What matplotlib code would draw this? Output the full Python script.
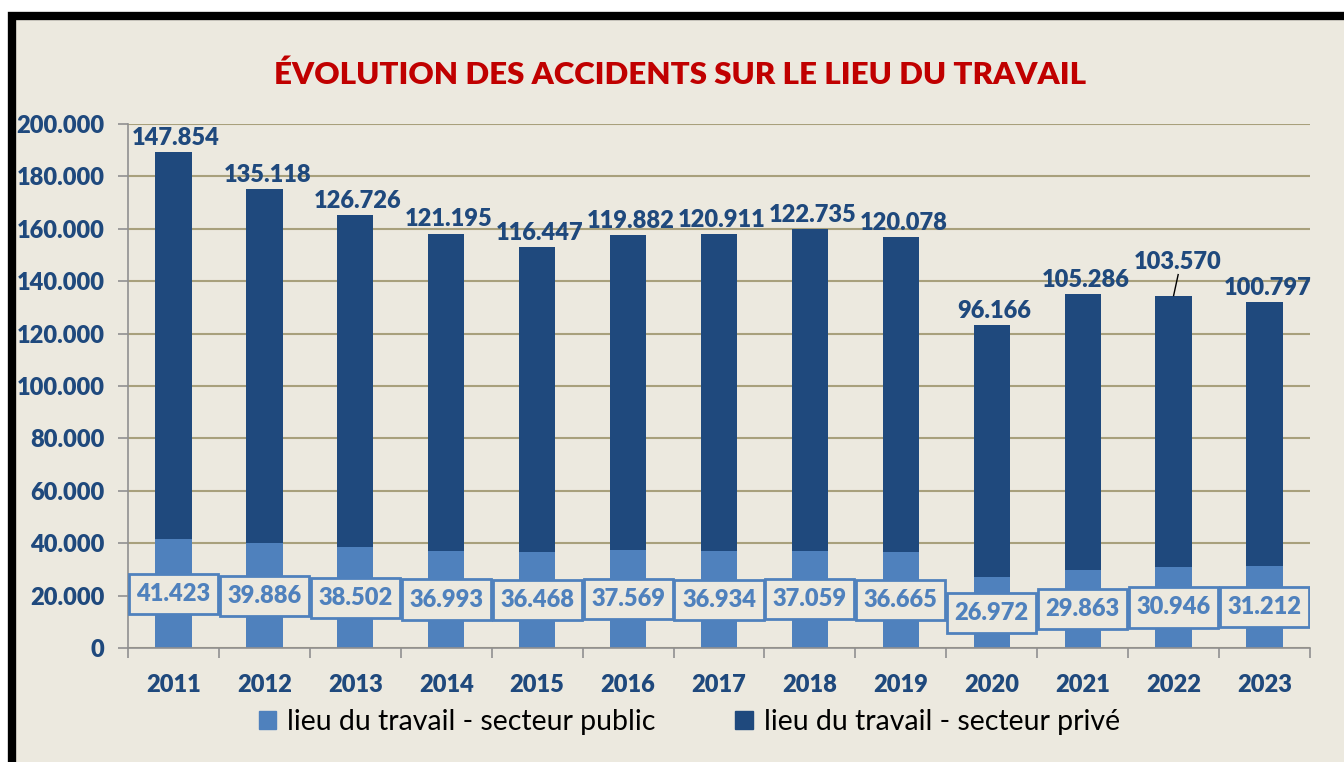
import numpy as np
import matplotlib.pyplot as plt
from matplotlib.patches import Rectangle
from matplotlib.ticker import FuncFormatter

# data
years = ["2011", "2012", "2013", "2014", "2015", "2016", "2017",
         "2018", "2019", "2020", "2021", "2022", "2023"]
public = [41423, 39886, 38502, 36993, 36468, 37569, 36934,
          37059, 36665, 26972, 29863, 30946, 31212]
private = [147854, 135118, 126726, 121195, 116447, 119882, 120911,
           122735, 120078, 96166, 105286, 103570, 100797]

BG = "#ECE9DF"
DARK = "#1F497D"
LIGHT = "#4F81BD"
GRID = "#A8A07C"
WT = "heavy"

plt.rcParams['font.family'] = ['Lato', 'DejaVu Sans']

W, H = 1344, 762
fig = plt.figure(figsize=(W / 100, H / 100), dpi=100)
fig.patch.set_facecolor("white")

# frame with thick black border (left/top/right visible)
fig.patches.append(Rectangle((12 / W, -0.05), 1.1, (H - 16) / H + 0.05,
                             transform=fig.transFigure, facecolor=BG,
                             edgecolor="black", linewidth=6, zorder=-5))

ax = fig.add_axes([128 / W, 114 / H, (1310 - 128) / W, (648 - 124) / H])
ax.set_facecolor("none")
ax.set_zorder(2)

x = np.arange(len(years))
pub = np.array(public)
pri = np.array(private)

ax.bar(x, pub, width=0.4, color=LIGHT, zorder=2)
ax.bar(x, pri, width=0.4, bottom=pub, color=DARK, zorder=2)

ax.set_xlim(-0.5, len(years) - 0.5)
ax.set_ylim(0, 200000)
ax.set_yticks(np.arange(0, 200001, 20000))
ax.yaxis.set_major_formatter(FuncFormatter(lambda v, p: f"{int(v):,}".replace(",", ".")))
ax.grid(axis="y", color=GRID, linewidth=1.5, zorder=1)
ax.set_axisbelow(True)

ax.set_xticks(x)
ax.set_xticklabels(years)
ax.set_xticks(np.arange(-0.5, len(years)), minor=True)
ax.tick_params(axis="x", which="major", length=0, pad=19)
ax.tick_params(axis="x", which="minor", length=7, color="#909090", width=1.2)
ax.tick_params(axis="y", length=7, color="#909090", width=1.2, pad=10)
for lab in ax.get_xticklabels() + ax.get_yticklabels():
    lab.set_fontsize(17)
    lab.set_fontweight(WT)
    lab.set_color(DARK)

for s in ["top", "right"]:
    ax.spines[s].set_visible(False)
for s in ["left", "bottom"]:
    ax.spines[s].set_color("#909090")
    ax.spines[s].set_linewidth(1.2)

fmt = lambda v: f"{v:,}".replace(",", ".")

# private labels above bars
for i in range(len(years)):
    top = pub[i] + pri[i]
    if years[i] == "2022":
        ax.plot([i, i + 0.05], [top, top + 8000], color="black", lw=1, zorder=3)
        ax.text(i + 0.05, top + 8500, fmt(pri[i]), ha="center", va="bottom",
                fontsize=17, fontweight=WT, color=DARK, zorder=4)
    else:
        ax.text(i + 0.03, top + 1200, fmt(pri[i]), ha="center", va="bottom",
                fontsize=17, fontweight=WT, color=DARK, zorder=4)

# public labels in boxes
box_h = 15300
for i in range(len(years)):
    yc = pub[i] / 2
    ax.add_patch(Rectangle((i - 0.49, yc - box_h / 2), 0.98, box_h,
                           facecolor=BG, edgecolor=LIGHT, linewidth=2, zorder=3))
    ax.text(i, yc, fmt(pub[i]), ha="center", va="center",
            fontsize=17, fontweight=WT, color=LIGHT, zorder=4)

fig.text(0.506, 1 - 75 / H, "ÉVOLUTION DES ACCIDENTS SUR LE LIEU DU TRAVAIL",
         ha="center", va="center", fontsize=22.5, fontweight=WT, color="#C00000")

h1 = Rectangle((0, 0), 1, 1, color=LIGHT)
h2 = Rectangle((0, 0), 1, 1, color=DARK)
fig.legend([h1, h2], ["lieu du travail - secteur public", "lieu du travail - secteur privé"],
           loc="center", bbox_to_anchor=(0.513, 1 - 722 / H), ncol=2, frameon=False,
           fontsize=20.5, handlelength=0.6, handleheight=0.6, handletextpad=0.4,
           columnspacing=2.8)

fig.savefig("out.png", dpi=100)
